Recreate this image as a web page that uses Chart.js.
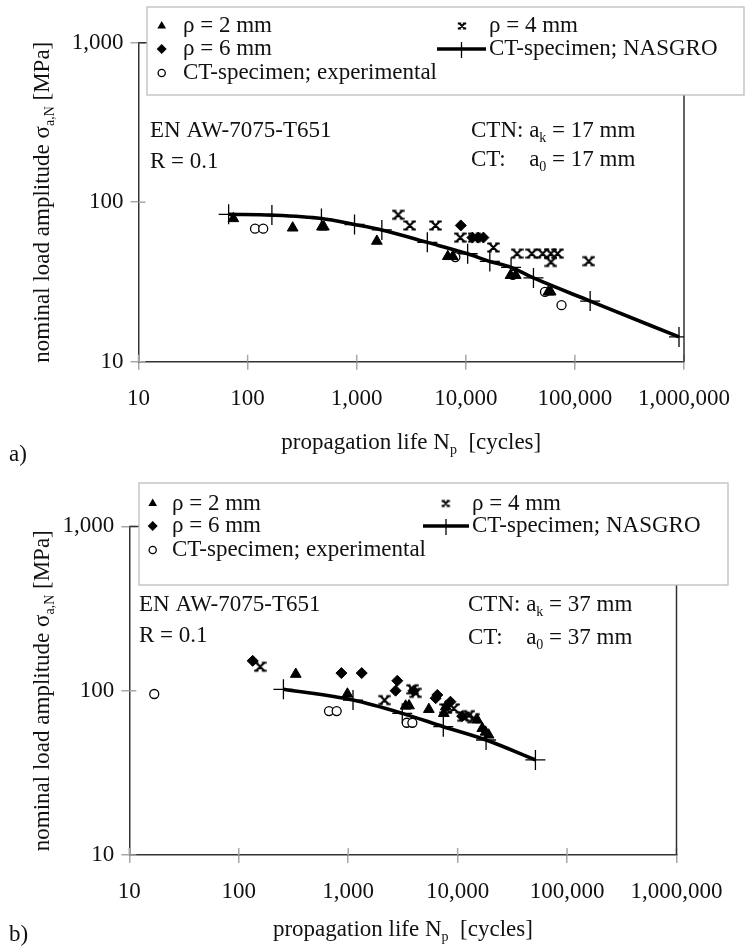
<!DOCTYPE html>
<html>
<head>
<meta charset="utf-8">
<script src="https://cdn.jsdelivr.net/npm/chart.js@4.4.1/dist/chart.umd.min.js"></script>
<style>
    html, body { margin: 0; padding: 0; background: #fff; }
    #wrapA { position: absolute; left: 0; top: 0; width: 745px; height: 470px; }
    #wrapB { position: absolute; left: 0; top: 470px; width: 745px; height: 481px; }
    canvas { display: block; }
</style>
</head>
<body>
<div id="wrapA"><canvas id="chartA" width="745" height="470"></canvas></div>
<div id="wrapB"><canvas id="chartB" width="745" height="481"></canvas></div>
<script>
// Axis ticks (decades)
const xTickValues = [10, 100, 1000, 10000, 100000, 1000000];
const yTickValues = [10, 100, 1000];

// Legend / series names
const labelRho2 = 'ρ = 2 mm';
const labelRho4 = 'ρ = 4 mm';
const labelRho6 = 'ρ = 6 mm';
const labelNasgro = 'CT-specimen; NASGRO';
const labelExp = 'CT-specimen; experimental';

// a) a_k = a_0 = 17 mm
const a_rho2_N = [74, 259, 480, 500, 1530, 6840, 7600, 25700, 28700, 57100, 60000];
const a_rho2_S = [79, 69, 70, 70, 57, 45.7, 45.7, 34.8, 34.8, 27.4, 27.4];
const a_rho4_N = [2400, 3070, 5280, 8900, 11900, 17900, 29500, 40300, 50700, 60300, 69300, 60300, 134000];
const a_rho4_S = [83.4, 71.5, 71.5, 60, 60, 52, 47.6, 47.6, 47.6, 47.6, 47.6, 42.2, 42.7];
const a_rho6_N = [9000, 11500, 13000, 14500];
const a_rho6_S = [71.5, 60, 60, 60];
const a_exp_N = [117, 139, 8020, 27000, 53200, 75400];
const a_exp_S = [68.2, 68.2, 45.3, 35, 27.4, 22.6];
const a_nas_N = [67, 167, 475, 955, 1700, 4440, 10400, 16600, 26000, 41700, 138000, 900000];
const a_nas_S = [84, 83, 79, 72.5, 67, 56, 47.5, 42.5, 39, 33.5, 24, 14.3];

// b) a_k = a_0 = 37 mm
const b_rho2_N = [332, 984, 3350, 3600, 5460, 7480, 7800, 15100, 16800, 18000, 19200];
const b_rho2_S = [126, 95.5, 80.7, 81, 77, 72.8, 80, 66.4, 59, 56, 53.8];
const b_rho4_N = [157, 2150, 3860, 4130, 7800, 9230, 11400, 12700, 14000];
const b_rho4_S = [140, 87.7, 102, 97, 78, 78, 69.5, 71, 68];
const b_rho6_N = [134, 867, 1330, 2810, 2710, 3950, 6300, 6520, 8600, 11000];
const b_rho6_S = [152, 128, 128, 115, 100, 100, 90, 94.2, 85.7, 70];
const b_exp_N = [16.9, 668, 785, 3430, 3860];
const b_exp_S = [95.5, 75.2, 75.2, 63.8, 63.8];
const b_nas_N = [256, 1107, 3120, 7400, 18200, 51400];
const b_nas_S = [102, 87.7, 72.8, 60.4, 50.1, 37.9];

const FONT = '"Liberation Serif", "Times New Roman", serif';
const FS = 23;

function pts(N, S)
{
    return N.map((n, i) => ({x: n, y: S[i]}));
}

function fmt(v)
{
    return Number(v).toLocaleString('en-US');
}

// x-mark with little horizontal serifs on each arm end, as in the reference
function makeStar(size, lw)
{
    const c = document.createElement('canvas');
    c.width = c.height = size;
    const g = c.getContext('2d');
    g.strokeStyle = '#000';
    g.lineWidth = lw;
    const m = 2.5, s = size - 2.5, h = size * 0.17;
    g.beginPath();
    g.moveTo(m, m); g.lineTo(s, s);
    g.moveTo(s, m); g.lineTo(m, s);
    [[m, m], [s, m], [m, s], [s, s]].forEach(p => { g.moveTo(p[0] - h, p[1]); g.lineTo(p[0] + h, p[1]); });
    g.stroke();
    return c;
}
const starBig = makeStar(13, 2.2);
const starSmall = makeStar(10, 1.8);

// text with subscripts: parts = [[text, isSub], ...]
function drawRich(ctx, parts, x, y, size, align)
{
    ctx.save();
    ctx.textBaseline = 'middle';
    ctx.textAlign = 'left';
    ctx.fillStyle = '#111';
    const big = size + 'px ' + FONT;
    const small = Math.round(size * 0.6) + 'px ' + FONT;
    let w = 0;
    parts.forEach(p => { ctx.font = p[1] ? small : big; w += ctx.measureText(p[0]).width; });
    let cx = align === 'center' ? x - w / 2 : x;
    parts.forEach(p =>
    {
        ctx.font = p[1] ? small : big;
        ctx.fillText(p[0], cx, p[1] ? y + size * 0.32 : y);
        cx += ctx.measureText(p[0]).width;
    });
    ctx.restore();
    return w;
}

function legendMarker(ctx, ds, x, y, lineX0, lineX1)
{
    ctx.save();
    ctx.fillStyle = '#000';
    ctx.strokeStyle = '#000';
    ctx.beginPath();
    if (ds.legendKind === 'tri')
    {
        const r = 5;
        ctx.moveTo(x, y - r);
        ctx.lineTo(x + r * 0.866, y + r * 0.5);
        ctx.lineTo(x - r * 0.866, y + r * 0.5);
        ctx.closePath();
        ctx.fill();
    }
    else if (ds.legendKind === 'dia')
    {
        const r = 5;
        ctx.moveTo(x, y - r); ctx.lineTo(x + r, y); ctx.lineTo(x, y + r); ctx.lineTo(x - r, y);
        ctx.closePath();
        ctx.fill();
    }
    else if (ds.legendKind === 'circ')
    {
        ctx.lineWidth = 1.3;
        ctx.arc(x, y, 3.6, 0, Math.PI * 2);
        ctx.stroke();
    }
    else if (ds.legendKind === 'star')
    {
        ctx.drawImage(starSmall, x - 5, y - 5);
    }
    else if (ds.legendKind === 'line')
    {
        ctx.lineWidth = 3.5;
        ctx.moveTo(lineX0, y); ctx.lineTo(lineX1, y);
        ctx.stroke();
        ctx.beginPath();
        ctx.lineWidth = 1.3;
        ctx.moveTo((lineX0 + lineX1) / 2, y - 7); ctx.lineTo((lineX0 + lineX1) / 2, y + 9);
        ctx.stroke();
    }
    ctx.restore();
}

const chartPlugin = {
    id: 'paper',
    beforeDatasetsDraw(chart)
    {
        const {ctx, chartArea: ca, scales: {x, y}} = chart;
        ctx.save();
        // inner half of the tick marks
        ctx.strokeStyle = '#a8a8a8';
        ctx.lineWidth = 1.5;
        ctx.beginPath();
        xTickValues.forEach(v => { const px = x.getPixelForValue(v); ctx.moveTo(px, ca.bottom); ctx.lineTo(px, ca.bottom - 7); });
        yTickValues.forEach(v => { const py = y.getPixelForValue(v); ctx.moveTo(ca.left, py); ctx.lineTo(ca.left + 7, py); });
        ctx.stroke();
        // top and right frame
        ctx.strokeStyle = '#333';
        ctx.beginPath();
        ctx.moveTo(ca.left, ca.top); ctx.lineTo(ca.right, ca.top); ctx.lineTo(ca.right, ca.bottom);
        ctx.stroke();
        ctx.restore();
    },
    afterDatasetsDraw(chart)
    {
        const {ctx} = chart;
        const P = chart.options.plugins.paper;
        const L = P.legend;

        // legend box over the top of the plot
        ctx.save();
        ctx.fillStyle = '#fff';
        ctx.fillRect(L.x0, L.y0, L.x1 - L.x0, L.y1 - L.y0);
        ctx.strokeStyle = '#bdbdbd';
        ctx.lineWidth = 1.3;
        ctx.strokeRect(L.x0, L.y0, L.x1 - L.x0, L.y1 - L.y0);
        ctx.restore();

        chart.data.datasets.forEach(ds =>
        {
            const ry = L.rows[ds.legendRow];
            const col = L.cols[ds.legendCol];
            legendMarker(ctx, ds, col.marker, ry, col.line0, col.line1);
            drawRich(ctx, [[ds.label, false]], col.text, ry, FS, 'left');
        });

        // material / specimen notes
        const N = P.notes;
        drawRich(ctx, [['EN AW-7075-T651', false]], N.leftX, N.row1, FS, 'left');
        drawRich(ctx, [['R = 0.1', false]], N.leftX, N.row2, FS, 'left');
        const w = drawRich(ctx, [['CTN: ', false]], N.rightX, N.row1, FS, 'left');
        drawRich(ctx, [['a', false], ['k', true], [' = ' + N.ak + ' mm', false]], N.rightX + w, N.row1, FS, 'left');
        drawRich(ctx, [['CT:', false]], N.rightX, N.row2b, FS, 'left');
        drawRich(ctx, [['a', false], ['0', true], [' = ' + N.a0 + ' mm', false]], N.rightX + w, N.row2b, FS, 'left');
    },
    afterDraw(chart)
    {
        const {ctx, chartArea: ca} = chart;
        const P = chart.options.plugins.paper;
        // x title
        drawRich(ctx, [['propagation life N', false], ['p', true], ['  [cycles]', false]],
            (ca.left + ca.right) / 2, P.xTitleY, FS, 'center');
        // y title, rotated
        ctx.save();
        ctx.translate(P.yTitleX, (ca.top + ca.bottom) / 2);
        ctx.rotate(-Math.PI / 2);
        drawRich(ctx, [['nominal load amplitude σ', false], ['a,N', true], [' [MPa]', false]], 0, 0, FS, 'center');
        ctx.restore();
        // panel letter
        drawRich(ctx, [[P.panel, false]], 9, P.panelY, FS, 'left');
    }
};

function makeChart(canvasId, D, G)
{
    const datasets = [
        {
            label: labelRho2, data: pts(D.rho2N, D.rho2S), pointStyle: 'triangle', pointRadius: 6.2,
            backgroundColor: '#000', borderColor: '#000', borderWidth: 1, showLine: false,
            legendKind: 'tri', legendRow: 0, legendCol: 0
        },
        {
            label: labelRho4, data: pts(D.rho4N, D.rho4S), pointStyle: starBig, pointRadius: 6,
            backgroundColor: '#000', borderColor: '#000', showLine: false,
            legendKind: 'star', legendRow: 0, legendCol: 1
        },
        {
            label: labelRho6, data: pts(D.rho6N, D.rho6S), pointStyle: 'rectRot', pointRadius: 5.5,
            backgroundColor: '#000', borderColor: '#000', borderWidth: 1, showLine: false,
            legendKind: 'dia', legendRow: 1, legendCol: 0
        },
        {
            label: labelExp, data: pts(D.expN, D.expS), pointStyle: 'circle', pointRadius: 4.5,
            backgroundColor: '#fff', borderColor: '#000', borderWidth: 1.3, showLine: false,
            legendKind: 'circ', legendRow: 2, legendCol: 0
        },
        {
            label: labelNasgro, data: pts(D.nasN, D.nasS), type: 'line', showLine: true,
            borderColor: '#000', borderWidth: 3.6, cubicInterpolationMode: 'monotone', fill: false,
            pointStyle: 'cross', pointRadius: 10, pointBorderWidth: 1.3, pointBorderColor: '#000',
            legendKind: 'line', legendRow: 1, legendCol: 1
        }
    ];

    return new Chart(document.getElementById(canvasId).getContext('2d'),
    {
        type: 'scatter',
        data: {datasets: datasets},
        plugins: [chartPlugin],
        options: {
            responsive: false,
            animation: false,
            events: [],
            layout: {padding: {left: 0, top: G.top, right: 745 - G.right, bottom: 0}},
            scales: {
                x: {
                    type: 'logarithmic', min: 10, max: 1000000,
                    afterBuildTicks: s => { s.ticks = xTickValues.map(v => ({value: v})); },
                    afterFit: s => { s.height = G.height - G.bottom; },
                    ticks: {callback: v => fmt(v), font: {family: FONT, size: FS}, color: '#111',
                            padding: 15, maxRotation: 0, autoSkip: false},
                    grid: {drawOnChartArea: false, drawTicks: true, tickLength: 8, color: '#a8a8a8', lineWidth: 1.5},
                    border: {display: true, color: '#333', width: 1.5}
                },
                y: {
                    type: 'logarithmic', min: 10, max: 1000,
                    afterBuildTicks: s => { s.ticks = yTickValues.map(v => ({value: v})); },
                    afterFit: s => { s.width = G.left; },
                    ticks: {callback: v => fmt(v), font: {family: FONT, size: FS}, color: '#111', padding: 7, autoSkip: false},
                    grid: {drawOnChartArea: false, drawTicks: true, tickLength: 8, color: '#a8a8a8', lineWidth: 1.5},
                    border: {display: true, color: '#333', width: 1.5}
                }
            },
            plugins: {
                legend: {display: false},
                tooltip: {enabled: false},
                paper: G.paper
            }
        }
    });
}

// a) 17 mm
makeChart('chartA',
    {rho2N: a_rho2_N, rho2S: a_rho2_S, rho4N: a_rho4_N, rho4S: a_rho4_S, rho6N: a_rho6_N, rho6S: a_rho6_S,
     expN: a_exp_N, expS: a_exp_S, nasN: a_nas_N, nasS: a_nas_S},
    {
        left: 138.5, right: 690, top: 42.7, bottom: 361.7, height: 470,
        paper: {
            panel: 'a)', panelY: 455, xTitleY: 443, yTitleX: 43,
            legend: {x0: 147, x1: 744, y0: 7, y1: 95, rows: [26, 49, 73],
                     cols: [{marker: 161.7, text: 183, line0: 0, line1: 0}, {marker: 462, text: 489, line0: 437, line1: 486}]},
            notes: {leftX: 150, rightX: 471, row1: 131, row2: 162, row2b: 160, ak: 17, a0: 17}
        }
    });

// b) 37 mm
makeChart('chartB',
    {rho2N: b_rho2_N, rho2S: b_rho2_S, rho4N: b_rho4_N, rho4S: b_rho4_S, rho6N: b_rho6_N, rho6S: b_rho6_S,
     expN: b_exp_N, expS: b_exp_S, nasN: b_nas_N, nasS: b_nas_S},
    {
        left: 129.3, right: 676.5, top: 56.4, bottom: 385, height: 481,
        paper: {
            panel: 'b)', panelY: 465, xTitleY: 460, yTitleX: 43,
            legend: {x0: 139, x1: 728, y0: 13, y1: 115, rows: [33.5, 56, 80],
                     cols: [{marker: 152.7, text: 172, line0: 0, line1: 0}, {marker: 445.7, text: 472, line0: 423, line1: 469}]},
            notes: {leftX: 139, rightX: 468, row1: 135, row2: 166, row2b: 168, ak: 37, a0: 37}
        }
    });
</script>
</body>
</html>
